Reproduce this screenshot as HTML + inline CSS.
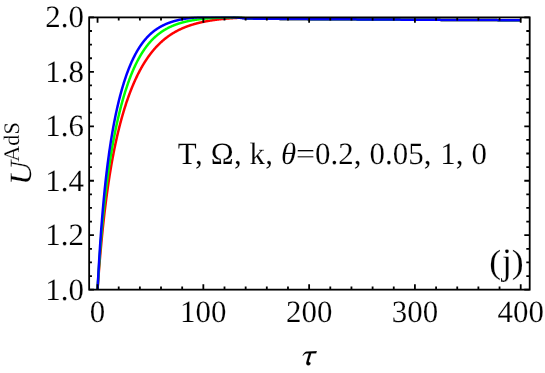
<!DOCTYPE html>
<html><head><meta charset="utf-8"><title>plot</title>
<style>html,body{margin:0;padding:0;background:#fff;}body{width:545px;height:373px;overflow:hidden;font-family:"Liberation Serif",serif;} .t,.t text,.t tspan{font-family:"Liberation Serif",serif;text-rendering:geometricPrecision;}</style></head>
<body>
<svg width="545" height="373" viewBox="0 0 545 373" style="display:block;will-change:transform">
<rect width="545" height="373" fill="#fff"/>
<clipPath id="c"><rect x="89.15" y="16.4" width="440.55000000000007" height="273.25"/></clipPath>
<g clip-path="url(#c)" fill="none" stroke-width="2.5" stroke-linejoin="round">
<path d="M97.55,289.65 L97.80,286.11 L98.05,282.65 L98.30,279.25 L98.55,275.93 L98.80,272.67 L99.05,269.48 L99.30,266.35 L99.55,263.28 L99.80,260.27 L100.05,257.32 L100.30,254.43 L100.55,251.59 L100.80,248.80 L101.05,246.06 L101.30,243.38 L101.55,240.74 L101.80,238.15 L102.05,235.61 L102.30,233.11 L102.55,230.66 L102.80,228.24 L103.05,225.87 L103.30,223.54 L103.55,221.25 L103.80,219.00 L104.05,216.79 L104.30,214.61 L104.55,212.47 L104.80,210.36 L105.05,208.28 L105.30,206.24 L105.55,204.23 L105.80,202.25 L106.05,200.30 L106.30,198.39 L106.55,196.50 L106.80,194.64 L107.05,192.80 L107.30,191.00 L107.55,189.22 L107.80,187.47 L108.05,185.74 L108.30,184.03 L108.55,182.35 L108.80,180.70 L109.05,179.07 L109.30,177.46 L109.55,175.87 L109.80,174.30 L110.05,172.76 L110.30,171.23 L110.55,169.73 L110.80,168.24 L111.05,166.78 L111.30,165.33 L111.55,163.90 L111.80,162.49 L112.05,161.10 L112.30,159.73 L112.55,158.37 L112.80,157.03 L113.05,155.71 L113.30,154.40 L113.55,153.11 L113.80,151.83 L114.05,150.57 L114.30,149.33 L114.55,148.10 L114.80,146.88 L115.05,145.68 L115.30,144.49 L115.55,143.31 L115.80,142.15 L116.05,141.00 L116.30,139.87 L116.55,138.74 L116.80,137.63 L117.05,136.54 L117.30,135.45 L117.55,134.37 L117.80,133.31 L118.05,132.26 L118.30,131.22 L118.55,130.19 L118.80,129.17 L119.05,128.17 L119.30,127.17 L119.55,126.18 L119.80,125.21 L120.05,124.24 L120.30,123.29 L120.55,122.34 L120.80,121.40 L121.05,120.48 L121.30,119.56 L121.55,118.65 L121.80,117.75 L122.05,116.86 L122.30,115.98 L122.55,115.10 L122.80,114.24 L123.05,113.38 L123.30,112.53 L123.55,111.69 L123.80,110.86 L124.05,110.04 L124.30,109.22 L124.55,108.42 L124.80,107.61 L125.05,106.82 L125.30,106.04 L125.55,105.26 L125.80,104.49 L126.05,103.72 L126.30,102.97 L126.55,102.22 L126.80,101.47 L127.05,100.74 L127.30,100.01 L127.55,99.29 L127.80,98.57 L128.05,97.86 L128.30,97.16 L128.55,96.46 L128.80,95.77 L129.05,95.09 L129.30,94.41 L129.55,93.74 L129.80,93.07 L130.05,92.41 L130.30,91.76 L130.55,91.11 L130.80,90.46 L131.05,89.83 L131.30,89.20 L131.55,88.57 L131.80,87.95 L132.05,87.33 L132.30,86.72 L132.55,86.12 L132.80,85.52 L133.05,84.93 L133.30,84.34 L133.55,83.75 L133.80,83.17 L134.05,82.60 L134.30,82.03 L134.55,81.47 L134.80,80.91 L135.05,80.35 L135.30,79.80 L135.55,79.26 L135.80,78.72 L136.05,78.18 L136.30,77.65 L136.55,77.13 L136.80,76.60 L137.05,76.09 L137.30,75.57 L137.55,75.06 L137.80,74.56 L138.05,74.06 L138.30,73.56 L138.55,73.07 L138.80,72.58 L139.05,72.10 L139.30,71.62 L139.55,71.15 L139.80,70.67 L140.05,70.21 L140.30,69.74 L140.55,69.28 L140.80,68.83 L141.05,68.37 L141.30,67.93 L141.55,67.48 L141.80,67.04 L142.05,66.60 L142.30,66.17 L142.55,65.74 L142.80,65.32 L143.05,64.89 L143.30,64.47 L143.55,64.06 L143.80,63.65 L144.05,63.24 L144.30,62.83 L144.55,62.43 L144.80,62.03 L145.05,61.64 L145.30,61.24 L145.55,60.86 L145.80,60.47 L146.05,60.09 L146.30,59.71 L146.55,59.33 L146.80,58.96 L147.05,58.59 L147.30,58.23 L147.55,57.86 L147.80,57.50 L148.05,57.14 L148.30,56.79 L148.55,56.44 L148.80,56.09 L149.05,55.74 L149.30,55.40 L149.55,55.06 L149.80,54.73 L150.05,54.39 L150.30,54.06 L150.55,53.73 L150.80,53.41 L151.05,53.08 L151.30,52.76 L151.55,52.45 L151.80,52.13 L152.05,51.82 L152.30,51.51 L152.55,51.20 L152.80,50.90 L153.05,50.59 L153.30,50.30 L153.55,50.00 L153.80,49.70 L154.05,49.41 L154.30,49.12 L154.55,48.84 L154.80,48.55 L155.05,48.27 L155.30,47.99 L155.55,47.71 L155.80,47.44 L156.05,47.16 L156.30,46.89 L156.55,46.62 L156.80,46.36 L157.05,46.09 L157.30,45.83 L157.55,45.57 L157.80,45.32 L158.05,45.06 L158.30,44.81 L158.55,44.56 L158.80,44.31 L159.05,44.06 L159.30,43.82 L159.55,43.58 L159.80,43.34 L160.05,43.10 L160.30,42.86 L160.55,42.63 L160.80,42.40 L161.05,42.16 L161.30,41.94 L161.55,41.71 L161.80,41.49 L162.05,41.26 L162.30,41.04 L162.55,40.82 L162.80,40.61 L163.05,40.39 L163.30,40.18 L163.55,39.97 L163.80,39.76 L164.05,39.55 L164.30,39.34 L164.55,39.14 L164.80,38.94 L165.05,38.74 L165.30,38.54 L165.55,38.34 L165.80,38.15 L166.05,37.95 L166.30,37.76 L166.55,37.57 L166.80,37.38 L167.05,37.19 L167.30,37.01 L167.55,36.82 L167.80,36.64 L168.05,36.46 L168.30,36.28 L168.55,36.10 L168.80,35.92 L169.05,35.75 L169.30,35.58 L169.55,35.40 L169.80,35.23 L170.05,35.07 L170.30,34.90 L170.55,34.73 L170.80,34.57 L171.05,34.40 L171.30,34.24 L171.55,34.08 L171.80,33.92 L172.05,33.77 L172.30,33.61 L172.55,33.45 L172.80,33.30 L173.05,33.15 L173.30,33.00 L173.55,32.85 L173.80,32.70 L174.05,32.55 L174.30,32.41 L174.55,32.26 L174.80,32.12 L175.05,31.98 L175.30,31.84 L175.55,31.70 L175.80,31.56 L176.05,31.42 L176.30,31.29 L176.55,31.15 L176.80,31.02 L177.05,30.89 L177.30,30.75 L177.55,30.62 L177.80,30.50 L178.05,30.37 L178.30,30.24 L178.55,30.11 L178.80,29.99 L179.05,29.87 L179.30,29.74 L179.55,29.62 L179.80,29.50 L180.05,29.38 L180.30,29.27 L180.55,29.15 L180.80,29.03 L181.05,28.92 L181.30,28.80 L181.55,28.69 L181.80,28.58 L182.05,28.47 L182.30,28.36 L182.55,28.25 L182.80,28.14 L183.05,28.03 L183.30,27.93 L183.55,27.82 L183.80,27.72 L184.05,27.61 L184.30,27.51 L184.55,27.41 L184.80,27.31 L185.05,27.21 L185.30,27.11 L185.55,27.01 L185.80,26.92 L186.05,26.82 L186.30,26.72 L186.55,26.63 L186.80,26.53 L187.05,26.44 L187.30,26.35 L187.55,26.26 L187.80,26.17 L188.05,26.08 L188.30,25.99 L188.55,25.90 L188.80,25.81 L189.05,25.73 L189.30,25.64 L189.55,25.56 L189.80,25.47 L190.05,25.39 L190.30,25.30 L190.55,25.22 L190.80,25.14 L191.05,25.06 L191.30,24.98 L191.55,24.90 L191.80,24.82 L192.05,24.74 L192.30,24.67 L192.55,24.59 L192.80,24.52 L193.05,24.44 L193.30,24.37 L193.55,24.29 L193.80,24.22 L194.05,24.15 L194.30,24.07 L194.55,24.00 L194.80,23.93 L195.05,23.86 L195.30,23.79 L195.55,23.72 L195.80,23.66 L196.05,23.59 L196.30,23.52 L196.55,23.46 L196.80,23.39 L197.05,23.32 L197.30,23.26 L197.55,23.20 L197.80,23.13 L198.05,23.07 L198.30,23.01 L198.55,22.95 L198.80,22.88 L199.05,22.82 L199.30,22.76 L199.55,22.70 L199.80,22.65 L200.05,22.59 L200.30,22.53 L200.55,22.47 L200.80,22.41 L201.05,22.36 L201.30,22.30 L201.55,22.25 L201.80,22.19 L202.05,22.14 L202.30,22.08 L202.55,22.03 L202.80,21.98 L203.05,21.92 L203.30,21.87 L203.55,21.82 L203.80,21.77 L204.05,21.72 L204.30,21.67 L204.55,21.62 L204.80,21.57 L205.05,21.52 L205.30,21.47 L205.55,21.42 L205.80,21.38 L206.05,21.33 L206.30,21.28 L206.55,21.24 L206.80,21.19 L207.05,21.15 L207.30,21.10 L207.55,21.06 L207.80,21.01 L208.05,20.97 L208.30,20.92 L208.55,20.88 L208.80,20.84 L209.05,20.80 L209.30,20.75 L209.55,20.71 L209.80,20.67 L210.05,20.63 L210.30,20.59 L210.55,20.55 L210.80,20.51 L211.05,20.47 L211.30,20.43 L211.55,20.39 L211.80,20.36 L212.05,20.32 L212.30,20.28 L212.55,20.24 L212.80,20.21 L213.05,20.17 L213.30,20.13 L213.55,20.10 L213.80,20.06 L214.05,20.03 L214.30,19.99 L214.55,19.96 L214.80,19.92 L215.05,19.89 L215.30,19.85 L215.55,19.82 L215.80,19.79 L216.05,19.75 L216.30,19.72 L216.55,19.69 L216.80,19.66 L217.05,19.63 L217.30,19.60 L217.55,19.56 L217.80,19.53 L218.05,19.50 L218.30,19.47 L218.55,19.44 L218.80,19.41 L219.05,19.38 L219.30,19.35 L219.55,19.33 L219.80,19.30 L220.05,19.27 L220.30,19.24 L220.55,19.21 L220.80,19.18 L221.05,19.16 L221.30,19.13 L221.55,19.10 L221.80,19.08 L222.05,19.05 L222.30,19.02 L222.55,19.00 L222.80,18.97 L223.05,18.95 L223.30,18.92 L223.55,18.90 L223.80,18.87 L224.05,18.85 L224.30,18.83 L224.55,18.80 L224.80,18.78 L225.05,18.75 L225.30,18.73 L225.55,18.71 L225.80,18.69 L226.05,18.66 L226.30,18.64 L226.55,18.62 L226.80,18.60 L227.05,18.57 L227.30,18.55 L227.55,18.53 L227.80,18.51 L228.05,18.49 L228.30,18.47 L228.55,18.45 L228.80,18.43 L229.05,18.41 L229.30,18.39 L229.55,18.37 L229.80,18.35 L230.05,18.33 L230.30,18.31 L230.55,18.30 L230.80,18.28 L231.05,18.26 L231.30,18.24 L231.55,18.22 L231.80,18.21 L232.05,18.19 L232.30,18.17 L232.55,18.15 L232.80,18.14 L233.05,18.12 L233.30,18.10 L233.55,18.09 L233.80,18.07 L234.05,18.06 L234.30,18.04 L234.55,18.03 L234.80,18.01 L235.05,18.00 L235.30,17.98 L235.55,17.97 L235.80,17.95 L236.05,17.94 L236.30,17.92 L236.55,17.91 L236.80,17.89 L237.05,17.88 L237.30,17.86 L237.55,17.85 L237.80,17.83 L238.05,17.82 L238.30,17.81 L238.55,17.80 L238.80,17.79 L239.05,17.78 L239.30,17.77 L239.55,17.77 L239.80,17.76 L240.05,17.76 L240.30,17.76 L240.55,17.77 L240.80,17.77 L241.05,17.78 L241.30,17.79 L241.55,17.81 L241.80,17.83 L242.05,17.85 L242.30,17.87 L242.55,17.89 L242.80,17.92 L243.05,17.94 L243.30,17.97 L243.55,18.00 L243.80,18.04 L244.05,18.07 L244.30,18.10 L244.55,18.13 L244.80,18.17 L245.05,18.20 L245.30,18.23 L245.55,18.26 L245.80,18.29 L246.05,18.31 L246.30,18.34 L246.55,18.36 L246.80,18.39 L247.05,18.41 L247.30,18.43 L247.55,18.45 L247.80,18.47 L248.05,18.49 L248.30,18.51 L248.55,18.52 L248.80,18.54 L249.05,18.55 L249.30,18.56 L249.55,18.57 L249.80,18.58 L250.05,18.58 L250.30,18.59 L250.55,18.59 L250.80,18.59 L251.05,18.60 L251.30,18.60 L251.55,18.61 L251.80,18.61 L252.05,18.61 L252.30,18.62 L252.55,18.62 L252.80,18.62 L253.05,18.63 L253.30,18.63 L253.55,18.63 L253.80,18.63 L254.05,18.64 L254.30,18.64 L254.55,18.64 L254.80,18.64 L255.05,18.65 L255.30,18.65 L255.55,18.65 L255.80,18.65 L256.05,18.66 L256.30,18.66 L256.55,18.66 L256.80,18.66 L257.05,18.67 L257.30,18.67 L257.55,18.67 L257.80,18.67 L258.05,18.67 L258.30,18.68 L258.55,18.68 L258.80,18.68 L259.05,18.68 L259.30,18.68 L259.55,18.69 L259.80,18.69 L260.00,18.69 L261.00,18.70 L262.00,18.71 L263.00,18.71 L264.00,18.72 L265.00,18.73 L266.00,18.74 L267.00,18.75 L268.00,18.76 L269.00,18.77 L270.00,18.78 L271.00,18.79 L272.00,18.80 L273.00,18.81 L274.00,18.82 L275.00,18.83 L276.00,18.84 L277.00,18.85 L278.00,18.86 L279.00,18.87 L280.00,18.88 L281.00,18.89 L282.00,18.90 L283.00,18.90 L284.00,18.91 L285.00,18.92 L286.00,18.93 L287.00,18.94 L288.00,18.95 L289.00,18.96 L290.00,18.97 L291.00,18.98 L292.00,18.99 L293.00,19.00 L294.00,19.01 L295.00,19.02 L296.00,19.02 L297.00,19.03 L298.00,19.04 L299.00,19.05 L300.00,19.06 L301.00,19.07 L302.00,19.08 L303.00,19.09 L304.00,19.10 L305.00,19.11 L306.00,19.11 L307.00,19.12 L308.00,19.13 L309.00,19.14 L310.00,19.14 L311.00,19.15 L312.00,19.16 L313.00,19.16 L314.00,19.17 L315.00,19.18 L316.00,19.18 L317.00,19.19 L318.00,19.19 L319.00,19.20 L320.00,19.20 L321.00,19.21 L322.00,19.22 L323.00,19.22 L324.00,19.23 L325.00,19.23 L326.00,19.24 L327.00,19.24 L328.00,19.25 L329.00,19.25 L330.00,19.26 L331.00,19.26 L332.00,19.27 L333.00,19.27 L334.00,19.27 L335.00,19.28 L336.00,19.28 L337.00,19.29 L338.00,19.29 L339.00,19.30 L340.00,19.30 L341.00,19.31 L342.00,19.31 L343.00,19.31 L344.00,19.32 L345.00,19.32 L346.00,19.33 L347.00,19.33 L348.00,19.34 L349.00,19.34 L350.00,19.35 L351.00,19.35 L352.00,19.35 L353.00,19.36 L354.00,19.36 L355.00,19.37 L356.00,19.37 L357.00,19.38 L358.00,19.38 L359.00,19.39 L360.00,19.39 L361.00,19.39 L362.00,19.40 L363.00,19.40 L364.00,19.41 L365.00,19.41 L366.00,19.42 L367.00,19.42 L368.00,19.43 L369.00,19.43 L370.00,19.44 L371.00,19.44 L372.00,19.45 L373.00,19.46 L374.00,19.46 L375.00,19.47 L376.00,19.47 L377.00,19.48 L378.00,19.48 L379.00,19.49 L380.00,19.50 L381.00,19.50 L382.00,19.51 L383.00,19.51 L384.00,19.52 L385.00,19.53 L386.00,19.53 L387.00,19.54 L388.00,19.55 L389.00,19.55 L390.00,19.56 L391.00,19.56 L392.00,19.57 L393.00,19.58 L394.00,19.58 L395.00,19.59 L396.00,19.60 L397.00,19.60 L398.00,19.61 L399.00,19.62 L400.00,19.62 L401.00,19.63 L402.00,19.64 L403.00,19.64 L404.00,19.65 L405.00,19.66 L406.00,19.66 L407.00,19.67 L408.00,19.68 L409.00,19.68 L410.00,19.69 L411.00,19.70 L412.00,19.70 L413.00,19.71 L414.00,19.72 L415.00,19.72 L416.00,19.73 L417.00,19.74 L418.00,19.74 L419.00,19.75 L420.00,19.76 L421.00,19.76 L422.00,19.77 L423.00,19.78 L424.00,19.78 L425.00,19.79 L426.00,19.79 L427.00,19.80 L428.00,19.81 L429.00,19.81 L430.00,19.82 L431.00,19.82 L432.00,19.83 L433.00,19.84 L434.00,19.84 L435.00,19.85 L436.00,19.85 L437.00,19.86 L438.00,19.86 L439.00,19.87 L440.00,19.87 L441.00,19.88 L442.00,19.89 L443.00,19.89 L444.00,19.90 L445.00,19.90 L446.00,19.90 L447.00,19.91 L448.00,19.91 L449.00,19.92 L450.00,19.92 L451.00,19.93 L452.00,19.93 L453.00,19.94 L454.00,19.94 L455.00,19.95 L456.00,19.95 L457.00,19.96 L458.00,19.96 L459.00,19.97 L460.00,19.97 L461.00,19.97 L462.00,19.98 L463.00,19.98 L464.00,19.99 L465.00,19.99 L466.00,20.00 L467.00,20.00 L468.00,20.01 L469.00,20.01 L470.00,20.01 L471.00,20.02 L472.00,20.02 L473.00,20.03 L474.00,20.03 L475.00,20.04 L476.00,20.04 L477.00,20.04 L478.00,20.05 L479.00,20.05 L480.00,20.06 L481.00,20.06 L482.00,20.07 L483.00,20.07 L484.00,20.07 L485.00,20.08 L486.00,20.08 L487.00,20.09 L488.00,20.09 L489.00,20.09 L490.00,20.10 L491.00,20.10 L492.00,20.10 L493.00,20.11 L494.00,20.11 L495.00,20.12 L496.00,20.12 L497.00,20.12 L498.00,20.13 L499.00,20.13 L500.00,20.13 L501.00,20.14 L502.00,20.14 L503.00,20.14 L504.00,20.15 L505.00,20.15 L506.00,20.15 L507.00,20.16 L508.00,20.16 L509.00,20.16 L510.00,20.17 L511.00,20.17 L512.00,20.17 L513.00,20.18 L514.00,20.18 L515.00,20.18 L516.00,20.19 L517.00,20.19 L518.00,20.19 L519.00,20.19 L520.00,20.20 L520.80,20.20" stroke="#ff0000"/>
<path d="M97.55,289.65 L97.80,285.35 L98.05,281.18 L98.30,277.12 L98.55,273.16 L98.80,269.32 L99.05,265.57 L99.30,261.92 L99.55,258.37 L99.80,254.90 L100.05,251.52 L100.30,248.22 L100.55,244.99 L100.80,241.85 L101.05,238.78 L101.30,235.77 L101.55,232.84 L101.80,229.97 L102.05,227.16 L102.30,224.41 L102.55,221.72 L102.80,219.08 L103.05,216.50 L103.30,213.98 L103.55,211.50 L103.80,209.07 L104.05,206.68 L104.30,204.35 L104.55,202.05 L104.80,199.80 L105.05,197.59 L105.30,195.42 L105.55,193.29 L105.80,191.19 L106.05,189.13 L106.30,187.11 L106.55,185.11 L106.80,183.16 L107.05,181.23 L107.30,179.34 L107.55,177.47 L107.80,175.63 L108.05,173.83 L108.30,172.05 L108.55,170.29 L108.80,168.57 L109.05,166.86 L109.30,165.19 L109.55,163.53 L109.80,161.90 L110.05,160.30 L110.30,158.71 L110.55,157.15 L110.80,155.61 L111.05,154.09 L111.30,152.59 L111.55,151.11 L111.80,149.65 L112.05,148.20 L112.30,146.78 L112.55,145.37 L112.80,143.99 L113.05,142.62 L113.30,141.26 L113.55,139.92 L113.80,138.60 L114.05,137.30 L114.30,136.01 L114.55,134.74 L114.80,133.48 L115.05,132.23 L115.30,131.00 L115.55,129.79 L115.80,128.59 L116.05,127.40 L116.30,126.23 L116.55,125.06 L116.80,123.92 L117.05,122.78 L117.30,121.66 L117.55,120.55 L117.80,119.45 L118.05,118.37 L118.30,117.29 L118.55,116.23 L118.80,115.18 L119.05,114.14 L119.30,113.11 L119.55,112.10 L119.80,111.09 L120.05,110.09 L120.30,109.11 L120.55,108.13 L120.80,107.17 L121.05,106.22 L121.30,105.27 L121.55,104.34 L121.80,103.41 L122.05,102.50 L122.30,101.59 L122.55,100.70 L122.80,99.81 L123.05,98.93 L123.30,98.06 L123.55,97.21 L123.80,96.35 L124.05,95.51 L124.30,94.68 L124.55,93.85 L124.80,93.04 L125.05,92.23 L125.30,91.43 L125.55,90.64 L125.80,89.86 L126.05,89.08 L126.30,88.31 L126.55,87.55 L126.80,86.80 L127.05,86.06 L127.30,85.32 L127.55,84.59 L127.80,83.87 L128.05,83.15 L128.30,82.45 L128.55,81.75 L128.80,81.05 L129.05,80.37 L129.30,79.69 L129.55,79.02 L129.80,78.35 L130.05,77.69 L130.30,77.04 L130.55,76.40 L130.80,75.76 L131.05,75.13 L131.30,74.50 L131.55,73.88 L131.80,73.27 L132.05,72.66 L132.30,72.06 L132.55,71.47 L132.80,70.88 L133.05,70.30 L133.30,69.72 L133.55,69.15 L133.80,68.59 L134.05,68.03 L134.30,67.47 L134.55,66.93 L134.80,66.38 L135.05,65.85 L135.30,65.32 L135.55,64.79 L135.80,64.27 L136.05,63.76 L136.30,63.25 L136.55,62.75 L136.80,62.25 L137.05,61.75 L137.30,61.27 L137.55,60.78 L137.80,60.30 L138.05,59.83 L138.30,59.36 L138.55,58.90 L138.80,58.44 L139.05,57.99 L139.30,57.54 L139.55,57.09 L139.80,56.65 L140.05,56.22 L140.30,55.78 L140.55,55.36 L140.80,54.94 L141.05,54.52 L141.30,54.11 L141.55,53.70 L141.80,53.29 L142.05,52.89 L142.30,52.50 L142.55,52.10 L142.80,51.72 L143.05,51.33 L143.30,50.95 L143.55,50.58 L143.80,50.21 L144.05,49.84 L144.30,49.47 L144.55,49.11 L144.80,48.76 L145.05,48.40 L145.30,48.06 L145.55,47.71 L145.80,47.37 L146.05,47.03 L146.30,46.70 L146.55,46.37 L146.80,46.04 L147.05,45.72 L147.30,45.40 L147.55,45.08 L147.80,44.76 L148.05,44.45 L148.30,44.15 L148.55,43.84 L148.80,43.54 L149.05,43.25 L149.30,42.95 L149.55,42.66 L149.80,42.37 L150.05,42.09 L150.30,41.81 L150.55,41.53 L150.80,41.25 L151.05,40.98 L151.30,40.71 L151.55,40.45 L151.80,40.18 L152.05,39.92 L152.30,39.66 L152.55,39.41 L152.80,39.15 L153.05,38.90 L153.30,38.66 L153.55,38.41 L153.80,38.17 L154.05,37.93 L154.30,37.69 L154.55,37.46 L154.80,37.23 L155.05,37.00 L155.30,36.77 L155.55,36.55 L155.80,36.33 L156.05,36.11 L156.30,35.89 L156.55,35.68 L156.80,35.46 L157.05,35.25 L157.30,35.05 L157.55,34.84 L157.80,34.64 L158.05,34.44 L158.30,34.24 L158.55,34.04 L158.80,33.85 L159.05,33.65 L159.30,33.46 L159.55,33.27 L159.80,33.09 L160.05,32.90 L160.30,32.72 L160.55,32.54 L160.80,32.36 L161.05,32.19 L161.30,32.01 L161.55,31.84 L161.80,31.67 L162.05,31.50 L162.30,31.33 L162.55,31.17 L162.80,31.01 L163.05,30.84 L163.30,30.68 L163.55,30.53 L163.80,30.37 L164.05,30.22 L164.30,30.06 L164.55,29.91 L164.80,29.76 L165.05,29.62 L165.30,29.47 L165.55,29.32 L165.80,29.18 L166.05,29.04 L166.30,28.90 L166.55,28.76 L166.80,28.63 L167.05,28.49 L167.30,28.36 L167.55,28.22 L167.80,28.09 L168.05,27.96 L168.30,27.84 L168.55,27.71 L168.80,27.58 L169.05,27.46 L169.30,27.34 L169.55,27.22 L169.80,27.10 L170.05,26.98 L170.30,26.86 L170.55,26.75 L170.80,26.63 L171.05,26.52 L171.30,26.41 L171.55,26.29 L171.80,26.18 L172.05,26.08 L172.30,25.97 L172.55,25.86 L172.80,25.76 L173.05,25.65 L173.30,25.55 L173.55,25.45 L173.80,25.35 L174.05,25.25 L174.30,25.15 L174.55,25.06 L174.80,24.96 L175.05,24.87 L175.30,24.77 L175.55,24.68 L175.80,24.59 L176.05,24.50 L176.30,24.41 L176.55,24.32 L176.80,24.23 L177.05,24.14 L177.30,24.06 L177.55,23.97 L177.80,23.89 L178.05,23.81 L178.30,23.72 L178.55,23.64 L178.80,23.56 L179.05,23.48 L179.30,23.40 L179.55,23.33 L179.80,23.25 L180.05,23.17 L180.30,23.10 L180.55,23.02 L180.80,22.95 L181.05,22.88 L181.30,22.81 L181.55,22.74 L181.80,22.67 L182.05,22.60 L182.30,22.53 L182.55,22.46 L182.80,22.39 L183.05,22.33 L183.30,22.26 L183.55,22.20 L183.80,22.13 L184.05,22.07 L184.30,22.00 L184.55,21.94 L184.80,21.88 L185.05,21.82 L185.30,21.76 L185.55,21.70 L185.80,21.64 L186.05,21.58 L186.30,21.53 L186.55,21.47 L186.80,21.41 L187.05,21.36 L187.30,21.30 L187.55,21.25 L187.80,21.20 L188.05,21.14 L188.30,21.09 L188.55,21.04 L188.80,20.99 L189.05,20.94 L189.30,20.89 L189.55,20.84 L189.80,20.79 L190.05,20.74 L190.30,20.69 L190.55,20.64 L190.80,20.60 L191.05,20.55 L191.30,20.50 L191.55,20.46 L191.80,20.41 L192.05,20.37 L192.30,20.32 L192.55,20.28 L192.80,20.24 L193.05,20.20 L193.30,20.15 L193.55,20.11 L193.80,20.07 L194.05,20.03 L194.30,19.99 L194.55,19.95 L194.80,19.91 L195.05,19.87 L195.30,19.83 L195.55,19.80 L195.80,19.76 L196.05,19.72 L196.30,19.68 L196.55,19.65 L196.80,19.61 L197.05,19.58 L197.30,19.54 L197.55,19.51 L197.80,19.47 L198.05,19.44 L198.30,19.41 L198.55,19.37 L198.80,19.34 L199.05,19.31 L199.30,19.28 L199.55,19.24 L199.80,19.21 L200.05,19.18 L200.30,19.15 L200.55,19.12 L200.80,19.09 L201.05,19.06 L201.30,19.03 L201.55,19.00 L201.80,18.97 L202.05,18.95 L202.30,18.92 L202.55,18.89 L202.80,18.86 L203.05,18.84 L203.30,18.81 L203.55,18.78 L203.80,18.76 L204.05,18.73 L204.30,18.71 L204.55,18.68 L204.80,18.66 L205.05,18.63 L205.30,18.61 L205.55,18.58 L205.80,18.56 L206.05,18.54 L206.30,18.52 L206.55,18.49 L206.80,18.47 L207.05,18.45 L207.30,18.43 L207.55,18.40 L207.80,18.38 L208.05,18.36 L208.30,18.34 L208.55,18.32 L208.80,18.30 L209.05,18.28 L209.30,18.26 L209.55,18.24 L209.80,18.22 L210.05,18.20 L210.30,18.19 L210.55,18.17 L210.80,18.15 L211.05,18.13 L211.30,18.12 L211.55,18.10 L211.80,18.08 L212.05,18.06 L212.30,18.05 L212.55,18.03 L212.80,18.02 L213.05,18.00 L213.30,17.99 L213.55,17.97 L213.80,17.96 L214.05,17.94 L214.30,17.93 L214.55,17.91 L214.80,17.90 L215.05,17.88 L215.30,17.87 L215.55,17.86 L215.80,17.84 L216.05,17.83 L216.30,17.82 L216.55,17.81 L216.80,17.80 L217.05,17.78 L217.30,17.77 L217.55,17.76 L217.80,17.75 L218.05,17.74 L218.30,17.73 L218.55,17.72 L218.80,17.71 L219.05,17.70 L219.30,17.69 L219.55,17.68 L219.80,17.67 L220.05,17.66 L220.30,17.65 L220.55,17.64 L220.80,17.63 L221.05,17.62 L221.30,17.62 L221.55,17.61 L221.80,17.60 L222.05,17.59 L222.30,17.58 L222.55,17.58 L222.80,17.57 L223.05,17.56 L223.30,17.55 L223.55,17.55 L223.80,17.54 L224.05,17.53 L224.30,17.53 L224.55,17.52 L224.80,17.52 L225.05,17.51 L225.30,17.50 L225.55,17.50 L225.80,17.49 L226.05,17.49 L226.30,17.48 L226.55,17.48 L226.80,17.47 L227.05,17.47 L227.30,17.46 L227.55,17.46 L227.80,17.45 L228.05,17.45 L228.30,17.44 L228.55,17.44 L228.80,17.43 L229.05,17.43 L229.30,17.43 L229.55,17.42 L229.80,17.42 L230.05,17.42 L230.30,17.41 L230.55,17.41 L230.80,17.40 L231.05,17.40 L231.30,17.40 L231.55,17.39 L231.80,17.39 L232.05,17.39 L232.30,17.39 L232.55,17.38 L232.80,17.38 L233.05,17.38 L233.30,17.37 L233.55,17.37 L233.80,17.37 L234.05,17.37 L234.30,17.36 L234.55,17.36 L234.80,17.36 L235.05,17.36 L235.30,17.35 L235.55,17.35 L235.80,17.35 L236.05,17.35 L236.30,17.35 L236.55,17.34 L236.80,17.34 L237.05,17.34 L237.30,17.34 L237.55,17.34 L237.80,17.34 L238.05,17.35 L238.30,17.35 L238.55,17.36 L238.80,17.36 L239.05,17.37 L239.30,17.38 L239.55,17.39 L239.80,17.41 L240.05,17.42 L240.30,17.44 L240.55,17.46 L240.80,17.49 L241.05,17.51 L241.30,17.54 L241.55,17.57 L241.80,17.60 L242.05,17.63 L242.30,17.67 L242.55,17.71 L242.80,17.74 L243.05,17.78 L243.30,17.83 L243.55,17.87 L243.80,17.91 L244.05,17.95 L244.30,18.00 L244.55,18.04 L244.80,18.08 L245.05,18.12 L245.30,18.16 L245.55,18.20 L245.80,18.23 L246.05,18.27 L246.30,18.30 L246.55,18.33 L246.80,18.36 L247.05,18.38 L247.30,18.41 L247.55,18.43 L247.80,18.46 L248.05,18.48 L248.30,18.50 L248.55,18.52 L248.80,18.53 L249.05,18.55 L249.30,18.56 L249.55,18.57 L249.80,18.58 L250.05,18.58 L250.30,18.59 L250.55,18.59 L250.80,18.59 L251.05,18.60 L251.30,18.60 L251.55,18.61 L251.80,18.61 L252.05,18.61 L252.30,18.62 L252.55,18.62 L252.80,18.62 L253.05,18.63 L253.30,18.63 L253.55,18.63 L253.80,18.63 L254.05,18.64 L254.30,18.64 L254.55,18.64 L254.80,18.64 L255.05,18.65 L255.30,18.65 L255.55,18.65 L255.80,18.65 L256.05,18.66 L256.30,18.66 L256.55,18.66 L256.80,18.66 L257.05,18.67 L257.30,18.67 L257.55,18.67 L257.80,18.67 L258.05,18.67 L258.30,18.68 L258.55,18.68 L258.80,18.68 L259.05,18.68 L259.30,18.68 L259.55,18.69 L259.80,18.69 L260.00,18.69 L261.00,18.70 L262.00,18.71 L263.00,18.71 L264.00,18.72 L265.00,18.73 L266.00,18.74 L267.00,18.75 L268.00,18.76 L269.00,18.77 L270.00,18.78 L271.00,18.79 L272.00,18.80 L273.00,18.81 L274.00,18.82 L275.00,18.83 L276.00,18.84 L277.00,18.85 L278.00,18.86 L279.00,18.87 L280.00,18.88 L281.00,18.89 L282.00,18.90 L283.00,18.90 L284.00,18.91 L285.00,18.92 L286.00,18.93 L287.00,18.94 L288.00,18.95 L289.00,18.96 L290.00,18.97 L291.00,18.98 L292.00,18.99 L293.00,19.00 L294.00,19.01 L295.00,19.02 L296.00,19.02 L297.00,19.03 L298.00,19.04 L299.00,19.05 L300.00,19.06 L301.00,19.07 L302.00,19.08 L303.00,19.09 L304.00,19.10 L305.00,19.11 L306.00,19.11 L307.00,19.12 L308.00,19.13 L309.00,19.14 L310.00,19.14 L311.00,19.15 L312.00,19.16 L313.00,19.16 L314.00,19.17 L315.00,19.18 L316.00,19.18 L317.00,19.19 L318.00,19.19 L319.00,19.20 L320.00,19.20 L321.00,19.21 L322.00,19.22 L323.00,19.22 L324.00,19.23 L325.00,19.23 L326.00,19.24 L327.00,19.24 L328.00,19.25 L329.00,19.25 L330.00,19.26 L331.00,19.26 L332.00,19.27 L333.00,19.27 L334.00,19.27 L335.00,19.28 L336.00,19.28 L337.00,19.29 L338.00,19.29 L339.00,19.30 L340.00,19.30 L341.00,19.31 L342.00,19.31 L343.00,19.31 L344.00,19.32 L345.00,19.32 L346.00,19.33 L347.00,19.33 L348.00,19.34 L349.00,19.34 L350.00,19.35 L351.00,19.35 L352.00,19.35 L353.00,19.36 L354.00,19.36 L355.00,19.37 L356.00,19.37 L357.00,19.38 L358.00,19.38 L359.00,19.39 L360.00,19.39 L361.00,19.39 L362.00,19.40 L363.00,19.40 L364.00,19.41 L365.00,19.41 L366.00,19.42 L367.00,19.42 L368.00,19.43 L369.00,19.43 L370.00,19.44 L371.00,19.44 L372.00,19.45 L373.00,19.46 L374.00,19.46 L375.00,19.47 L376.00,19.47 L377.00,19.48 L378.00,19.48 L379.00,19.49 L380.00,19.50 L381.00,19.50 L382.00,19.51 L383.00,19.51 L384.00,19.52 L385.00,19.53 L386.00,19.53 L387.00,19.54 L388.00,19.55 L389.00,19.55 L390.00,19.56 L391.00,19.56 L392.00,19.57 L393.00,19.58 L394.00,19.58 L395.00,19.59 L396.00,19.60 L397.00,19.60 L398.00,19.61 L399.00,19.62 L400.00,19.62 L401.00,19.63 L402.00,19.64 L403.00,19.64 L404.00,19.65 L405.00,19.66 L406.00,19.66 L407.00,19.67 L408.00,19.68 L409.00,19.68 L410.00,19.69 L411.00,19.70 L412.00,19.70 L413.00,19.71 L414.00,19.72 L415.00,19.72 L416.00,19.73 L417.00,19.74 L418.00,19.74 L419.00,19.75 L420.00,19.76 L421.00,19.76 L422.00,19.77 L423.00,19.78 L424.00,19.78 L425.00,19.79 L426.00,19.79 L427.00,19.80 L428.00,19.81 L429.00,19.81 L430.00,19.82 L431.00,19.82 L432.00,19.83 L433.00,19.84 L434.00,19.84 L435.00,19.85 L436.00,19.85 L437.00,19.86 L438.00,19.86 L439.00,19.87 L440.00,19.87 L441.00,19.88 L442.00,19.89 L443.00,19.89 L444.00,19.90 L445.00,19.90 L446.00,19.90 L447.00,19.91 L448.00,19.91 L449.00,19.92 L450.00,19.92 L451.00,19.93 L452.00,19.93 L453.00,19.94 L454.00,19.94 L455.00,19.95 L456.00,19.95 L457.00,19.96 L458.00,19.96 L459.00,19.97 L460.00,19.97 L461.00,19.97 L462.00,19.98 L463.00,19.98 L464.00,19.99 L465.00,19.99 L466.00,20.00 L467.00,20.00 L468.00,20.01 L469.00,20.01 L470.00,20.01 L471.00,20.02 L472.00,20.02 L473.00,20.03 L474.00,20.03 L475.00,20.04 L476.00,20.04 L477.00,20.04 L478.00,20.05 L479.00,20.05 L480.00,20.06 L481.00,20.06 L482.00,20.07 L483.00,20.07 L484.00,20.07 L485.00,20.08 L486.00,20.08 L487.00,20.09 L488.00,20.09 L489.00,20.09 L490.00,20.10 L491.00,20.10 L492.00,20.10 L493.00,20.11 L494.00,20.11 L495.00,20.12 L496.00,20.12 L497.00,20.12 L498.00,20.13 L499.00,20.13 L500.00,20.13 L501.00,20.14 L502.00,20.14 L503.00,20.14 L504.00,20.15 L505.00,20.15 L506.00,20.15 L507.00,20.16 L508.00,20.16 L509.00,20.16 L510.00,20.17 L511.00,20.17 L512.00,20.17 L513.00,20.18 L514.00,20.18 L515.00,20.18 L516.00,20.19 L517.00,20.19 L518.00,20.19 L519.00,20.19 L520.00,20.20 L520.80,20.20" stroke="#00ff00"/>
<path d="M97.55,289.65 L97.80,284.71 L98.05,279.92 L98.30,275.27 L98.55,270.75 L98.80,266.36 L99.05,262.10 L99.30,257.95 L99.55,253.91 L99.80,249.98 L100.05,246.16 L100.30,242.43 L100.55,238.81 L100.80,235.27 L101.05,231.82 L101.30,228.46 L101.55,225.18 L101.80,221.98 L102.05,218.85 L102.30,215.80 L102.55,212.81 L102.80,209.90 L103.05,207.05 L103.30,204.26 L103.55,201.54 L103.80,198.87 L104.05,196.26 L104.30,193.70 L104.55,191.20 L104.80,188.75 L105.05,186.35 L105.30,184.00 L105.55,181.69 L105.80,179.43 L106.05,177.21 L106.30,175.03 L106.55,172.89 L106.80,170.80 L107.05,168.74 L107.30,166.72 L107.55,164.73 L107.80,162.78 L108.05,160.87 L108.30,158.99 L108.55,157.13 L108.80,155.32 L109.05,153.53 L109.30,151.77 L109.55,150.04 L109.80,148.33 L110.05,146.66 L110.30,145.01 L110.55,143.39 L110.80,141.79 L111.05,140.22 L111.30,138.67 L111.55,137.14 L111.80,135.64 L112.05,134.16 L112.30,132.70 L112.55,131.26 L112.80,129.85 L113.05,128.45 L113.30,127.08 L113.55,125.72 L113.80,124.38 L114.05,123.06 L114.30,121.76 L114.55,120.48 L114.80,119.21 L115.05,117.96 L115.30,116.73 L115.55,115.52 L115.80,114.32 L116.05,113.13 L116.30,111.97 L116.55,110.81 L116.80,109.68 L117.05,108.55 L117.30,107.44 L117.55,106.35 L117.80,105.27 L118.05,104.20 L118.30,103.15 L118.55,102.11 L118.80,101.08 L119.05,100.07 L119.30,99.06 L119.55,98.08 L119.80,97.10 L120.05,96.13 L120.30,95.18 L120.55,94.24 L120.80,93.30 L121.05,92.38 L121.30,91.48 L121.55,90.58 L121.80,89.69 L122.05,88.82 L122.30,87.95 L122.55,87.09 L122.80,86.25 L123.05,85.41 L123.30,84.59 L123.55,83.77 L123.80,82.96 L124.05,82.17 L124.30,81.38 L124.55,80.60 L124.80,79.83 L125.05,79.07 L125.30,78.32 L125.55,77.58 L125.80,76.84 L126.05,76.12 L126.30,75.40 L126.55,74.69 L126.80,73.99 L127.05,73.30 L127.30,72.61 L127.55,71.94 L127.80,71.27 L128.05,70.60 L128.30,69.95 L128.55,69.31 L128.80,68.67 L129.05,68.03 L129.30,67.41 L129.55,66.79 L129.80,66.18 L130.05,65.58 L130.30,64.99 L130.55,64.40 L130.80,63.81 L131.05,63.24 L131.30,62.67 L131.55,62.11 L131.80,61.55 L132.05,61.00 L132.30,60.46 L132.55,59.92 L132.80,59.39 L133.05,58.86 L133.30,58.35 L133.55,57.83 L133.80,57.33 L134.05,56.83 L134.30,56.33 L134.55,55.84 L134.80,55.36 L135.05,54.88 L135.30,54.41 L135.55,53.94 L135.80,53.48 L136.05,53.02 L136.30,52.57 L136.55,52.12 L136.80,51.68 L137.05,51.24 L137.30,50.81 L137.55,50.39 L137.80,49.97 L138.05,49.55 L138.30,49.14 L138.55,48.73 L138.80,48.33 L139.05,47.93 L139.30,47.54 L139.55,47.15 L139.80,46.77 L140.05,46.39 L140.30,46.02 L140.55,45.65 L140.80,45.28 L141.05,44.92 L141.30,44.56 L141.55,44.21 L141.80,43.86 L142.05,43.52 L142.30,43.18 L142.55,42.84 L142.80,42.51 L143.05,42.18 L143.30,41.85 L143.55,41.53 L143.80,41.21 L144.05,40.90 L144.30,40.59 L144.55,40.29 L144.80,39.98 L145.05,39.68 L145.30,39.39 L145.55,39.10 L145.80,38.81 L146.05,38.52 L146.30,38.24 L146.55,37.96 L146.80,37.69 L147.05,37.41 L147.30,37.15 L147.55,36.88 L147.80,36.62 L148.05,36.36 L148.30,36.10 L148.55,35.85 L148.80,35.60 L149.05,35.35 L149.30,35.11 L149.55,34.87 L149.80,34.63 L150.05,34.39 L150.30,34.16 L150.55,33.93 L150.80,33.71 L151.05,33.48 L151.30,33.26 L151.55,33.04 L151.80,32.82 L152.05,32.61 L152.30,32.40 L152.55,32.19 L152.80,31.98 L153.05,31.78 L153.30,31.58 L153.55,31.38 L153.80,31.18 L154.05,30.99 L154.30,30.80 L154.55,30.61 L154.80,30.42 L155.05,30.24 L155.30,30.06 L155.55,29.88 L155.80,29.70 L156.05,29.52 L156.30,29.35 L156.55,29.18 L156.80,29.01 L157.05,28.84 L157.30,28.67 L157.55,28.51 L157.80,28.35 L158.05,28.19 L158.30,28.03 L158.55,27.88 L158.80,27.72 L159.05,27.57 L159.30,27.42 L159.55,27.27 L159.80,27.12 L160.05,26.98 L160.30,26.84 L160.55,26.70 L160.80,26.56 L161.05,26.42 L161.30,26.28 L161.55,26.15 L161.80,26.02 L162.05,25.88 L162.30,25.76 L162.55,25.63 L162.80,25.50 L163.05,25.38 L163.30,25.25 L163.55,25.13 L163.80,25.01 L164.05,24.89 L164.30,24.78 L164.55,24.66 L164.80,24.54 L165.05,24.43 L165.30,24.32 L165.55,24.21 L165.80,24.10 L166.05,23.99 L166.30,23.89 L166.55,23.78 L166.80,23.68 L167.05,23.58 L167.30,23.48 L167.55,23.38 L167.80,23.28 L168.05,23.18 L168.30,23.08 L168.55,22.99 L168.80,22.89 L169.05,22.80 L169.30,22.71 L169.55,22.62 L169.80,22.53 L170.05,22.44 L170.30,22.36 L170.55,22.27 L170.80,22.18 L171.05,22.10 L171.30,22.02 L171.55,21.94 L171.80,21.85 L172.05,21.77 L172.30,21.70 L172.55,21.62 L172.80,21.54 L173.05,21.47 L173.30,21.39 L173.55,21.32 L173.80,21.24 L174.05,21.17 L174.30,21.10 L174.55,21.03 L174.80,20.96 L175.05,20.89 L175.30,20.82 L175.55,20.76 L175.80,20.69 L176.05,20.62 L176.30,20.56 L176.55,20.50 L176.80,20.43 L177.05,20.37 L177.30,20.31 L177.55,20.25 L177.80,20.19 L178.05,20.13 L178.30,20.07 L178.55,20.01 L178.80,19.96 L179.05,19.90 L179.30,19.84 L179.55,19.79 L179.80,19.74 L180.05,19.68 L180.30,19.63 L180.55,19.58 L180.80,19.53 L181.05,19.48 L181.30,19.42 L181.55,19.38 L181.80,19.33 L182.05,19.28 L182.30,19.23 L182.55,19.18 L182.80,19.14 L183.05,19.09 L183.30,19.05 L183.55,19.00 L183.80,18.96 L184.05,18.91 L184.30,18.87 L184.55,18.83 L184.80,18.79 L185.05,18.74 L185.30,18.70 L185.55,18.66 L185.80,18.62 L186.05,18.58 L186.30,18.55 L186.55,18.51 L186.80,18.47 L187.05,18.43 L187.30,18.40 L187.55,18.36 L187.80,18.32 L188.05,18.29 L188.30,18.25 L188.55,18.22 L188.80,18.19 L189.05,18.15 L189.30,18.12 L189.55,18.09 L189.80,18.06 L190.05,18.03 L190.30,18.00 L190.55,17.97 L190.80,17.94 L191.05,17.91 L191.30,17.88 L191.55,17.85 L191.80,17.82 L192.05,17.80 L192.30,17.77 L192.55,17.75 L192.80,17.72 L193.05,17.70 L193.30,17.67 L193.55,17.65 L193.80,17.63 L194.05,17.60 L194.30,17.58 L194.55,17.56 L194.80,17.54 L195.05,17.52 L195.30,17.50 L195.55,17.48 L195.80,17.46 L196.05,17.44 L196.30,17.42 L196.55,17.41 L196.80,17.39 L197.05,17.37 L197.30,17.36 L197.55,17.34 L197.80,17.33 L198.05,17.31 L198.30,17.30 L198.55,17.29 L198.80,17.28 L199.05,17.26 L199.30,17.25 L199.55,17.24 L199.80,17.23 L200.05,17.22 L200.30,17.21 L200.55,17.20 L200.80,17.19 L201.05,17.18 L201.30,17.17 L201.55,17.16 L201.80,17.15 L202.05,17.15 L202.30,17.14 L202.55,17.13 L202.80,17.13 L203.05,17.12 L203.30,17.11 L203.55,17.11 L203.80,17.10 L204.05,17.10 L204.30,17.09 L204.55,17.09 L204.80,17.08 L205.05,17.08 L205.30,17.07 L205.55,17.07 L205.80,17.06 L206.05,17.06 L206.30,17.06 L206.55,17.05 L206.80,17.05 L207.05,17.04 L207.30,17.04 L207.55,17.04 L207.80,17.04 L208.05,17.03 L208.30,17.03 L208.55,17.03 L208.80,17.03 L209.05,17.02 L209.30,17.02 L209.55,17.02 L209.80,17.02 L210.05,17.01 L210.30,17.01 L210.55,17.01 L210.80,17.01 L211.05,17.01 L211.30,17.01 L211.55,17.00 L211.80,17.00 L212.05,17.00 L212.30,17.00 L212.55,17.00 L212.80,17.00 L213.05,17.00 L213.30,16.99 L213.55,16.99 L213.80,16.99 L214.05,16.99 L214.30,16.99 L214.55,16.99 L214.80,16.99 L215.05,16.99 L215.30,16.99 L215.55,16.99 L215.80,16.99 L216.05,16.99 L216.30,16.99 L216.55,16.99 L216.80,16.99 L217.05,16.99 L217.30,16.99 L217.55,16.99 L217.80,16.99 L218.05,16.99 L218.30,16.99 L218.55,16.99 L218.80,16.99 L219.05,16.99 L219.30,16.99 L219.55,16.99 L219.80,16.99 L220.05,16.99 L220.30,17.00 L220.55,17.00 L220.80,17.00 L221.05,17.00 L221.30,17.00 L221.55,17.00 L221.80,17.00 L222.05,17.00 L222.30,17.00 L222.55,17.00 L222.80,17.00 L223.05,17.00 L223.30,17.00 L223.55,17.00 L223.80,17.00 L224.05,17.00 L224.30,17.00 L224.55,17.00 L224.80,17.00 L225.05,17.00 L225.30,17.01 L225.55,17.01 L225.80,17.01 L226.05,17.01 L226.30,17.02 L226.55,17.02 L226.80,17.02 L227.05,17.03 L227.30,17.03 L227.55,17.04 L227.80,17.04 L228.05,17.05 L228.30,17.05 L228.55,17.06 L228.80,17.06 L229.05,17.07 L229.30,17.07 L229.55,17.08 L229.80,17.09 L230.05,17.09 L230.30,17.10 L230.55,17.11 L230.80,17.11 L231.05,17.12 L231.30,17.13 L231.55,17.14 L231.80,17.14 L232.05,17.15 L232.30,17.16 L232.55,17.17 L232.80,17.18 L233.05,17.20 L233.30,17.21 L233.55,17.22 L233.80,17.24 L234.05,17.26 L234.30,17.28 L234.55,17.30 L234.80,17.32 L235.05,17.34 L235.30,17.36 L235.55,17.38 L235.80,17.40 L236.05,17.42 L236.30,17.44 L236.55,17.47 L236.80,17.49 L237.05,17.51 L237.30,17.54 L237.55,17.56 L237.80,17.58 L238.05,17.60 L238.30,17.63 L238.55,17.65 L238.80,17.68 L239.05,17.71 L239.30,17.74 L239.55,17.77 L239.80,17.80 L240.05,17.84 L240.30,17.87 L240.55,17.91 L240.80,17.94 L241.05,17.98 L241.30,18.02 L241.55,18.05 L241.80,18.09 L242.05,18.12 L242.30,18.16 L242.55,18.19 L242.80,18.22 L243.05,18.26 L243.30,18.29 L243.55,18.32 L243.80,18.34 L244.05,18.37 L244.30,18.39 L244.55,18.42 L244.80,18.44 L245.05,18.46 L245.30,18.47 L245.55,18.48 L245.80,18.49 L246.05,18.50 L246.30,18.51 L246.55,18.51 L246.80,18.52 L247.05,18.52 L247.30,18.53 L247.55,18.54 L247.80,18.54 L248.05,18.55 L248.30,18.55 L248.55,18.56 L248.80,18.56 L249.05,18.56 L249.30,18.57 L249.55,18.57 L249.80,18.58 L250.05,18.58 L250.30,18.59 L250.55,18.59 L250.80,18.59 L251.05,18.60 L251.30,18.60 L251.55,18.61 L251.80,18.61 L252.05,18.61 L252.30,18.62 L252.55,18.62 L252.80,18.62 L253.05,18.63 L253.30,18.63 L253.55,18.63 L253.80,18.63 L254.05,18.64 L254.30,18.64 L254.55,18.64 L254.80,18.64 L255.05,18.65 L255.30,18.65 L255.55,18.65 L255.80,18.65 L256.05,18.66 L256.30,18.66 L256.55,18.66 L256.80,18.66 L257.05,18.67 L257.30,18.67 L257.55,18.67 L257.80,18.67 L258.05,18.67 L258.30,18.68 L258.55,18.68 L258.80,18.68 L259.05,18.68 L259.30,18.68 L259.55,18.69 L259.80,18.69 L260.00,18.69 L261.00,18.70 L262.00,18.71 L263.00,18.71 L264.00,18.72 L265.00,18.73 L266.00,18.74 L267.00,18.75 L268.00,18.76 L269.00,18.77 L270.00,18.78 L271.00,18.79 L272.00,18.80 L273.00,18.81 L274.00,18.82 L275.00,18.83 L276.00,18.84 L277.00,18.85 L278.00,18.86 L279.00,18.87 L280.00,18.88 L281.00,18.89 L282.00,18.90 L283.00,18.90 L284.00,18.91 L285.00,18.92 L286.00,18.93 L287.00,18.94 L288.00,18.95 L289.00,18.96 L290.00,18.97 L291.00,18.98 L292.00,18.99 L293.00,19.00 L294.00,19.01 L295.00,19.02 L296.00,19.02 L297.00,19.03 L298.00,19.04 L299.00,19.05 L300.00,19.06 L301.00,19.07 L302.00,19.08 L303.00,19.09 L304.00,19.10 L305.00,19.11 L306.00,19.11 L307.00,19.12 L308.00,19.13 L309.00,19.14 L310.00,19.14 L311.00,19.15 L312.00,19.16 L313.00,19.16 L314.00,19.17 L315.00,19.18 L316.00,19.18 L317.00,19.19 L318.00,19.19 L319.00,19.20 L320.00,19.20 L321.00,19.21 L322.00,19.22 L323.00,19.22 L324.00,19.23 L325.00,19.23 L326.00,19.24 L327.00,19.24 L328.00,19.25 L329.00,19.25 L330.00,19.26 L331.00,19.26 L332.00,19.27 L333.00,19.27 L334.00,19.27 L335.00,19.28 L336.00,19.28 L337.00,19.29 L338.00,19.29 L339.00,19.30 L340.00,19.30 L341.00,19.31 L342.00,19.31 L343.00,19.31 L344.00,19.32 L345.00,19.32 L346.00,19.33 L347.00,19.33 L348.00,19.34 L349.00,19.34 L350.00,19.35 L351.00,19.35 L352.00,19.35 L353.00,19.36 L354.00,19.36 L355.00,19.37 L356.00,19.37 L357.00,19.38 L358.00,19.38 L359.00,19.39 L360.00,19.39 L361.00,19.39 L362.00,19.40 L363.00,19.40 L364.00,19.41 L365.00,19.41 L366.00,19.42 L367.00,19.42 L368.00,19.43 L369.00,19.43 L370.00,19.44 L371.00,19.44 L372.00,19.45 L373.00,19.46 L374.00,19.46 L375.00,19.47 L376.00,19.47 L377.00,19.48 L378.00,19.48 L379.00,19.49 L380.00,19.50 L381.00,19.50 L382.00,19.51 L383.00,19.51 L384.00,19.52 L385.00,19.53 L386.00,19.53 L387.00,19.54 L388.00,19.55 L389.00,19.55 L390.00,19.56 L391.00,19.56 L392.00,19.57 L393.00,19.58 L394.00,19.58 L395.00,19.59 L396.00,19.60 L397.00,19.60 L398.00,19.61 L399.00,19.62 L400.00,19.62 L401.00,19.63 L402.00,19.64 L403.00,19.64 L404.00,19.65 L405.00,19.66 L406.00,19.66 L407.00,19.67 L408.00,19.68 L409.00,19.68 L410.00,19.69 L411.00,19.70 L412.00,19.70 L413.00,19.71 L414.00,19.72 L415.00,19.72 L416.00,19.73 L417.00,19.74 L418.00,19.74 L419.00,19.75 L420.00,19.76 L421.00,19.76 L422.00,19.77 L423.00,19.78 L424.00,19.78 L425.00,19.79 L426.00,19.79 L427.00,19.80 L428.00,19.81 L429.00,19.81 L430.00,19.82 L431.00,19.82 L432.00,19.83 L433.00,19.84 L434.00,19.84 L435.00,19.85 L436.00,19.85 L437.00,19.86 L438.00,19.86 L439.00,19.87 L440.00,19.87 L441.00,19.88 L442.00,19.89 L443.00,19.89 L444.00,19.90 L445.00,19.90 L446.00,19.90 L447.00,19.91 L448.00,19.91 L449.00,19.92 L450.00,19.92 L451.00,19.93 L452.00,19.93 L453.00,19.94 L454.00,19.94 L455.00,19.95 L456.00,19.95 L457.00,19.96 L458.00,19.96 L459.00,19.97 L460.00,19.97 L461.00,19.97 L462.00,19.98 L463.00,19.98 L464.00,19.99 L465.00,19.99 L466.00,20.00 L467.00,20.00 L468.00,20.01 L469.00,20.01 L470.00,20.01 L471.00,20.02 L472.00,20.02 L473.00,20.03 L474.00,20.03 L475.00,20.04 L476.00,20.04 L477.00,20.04 L478.00,20.05 L479.00,20.05 L480.00,20.06 L481.00,20.06 L482.00,20.07 L483.00,20.07 L484.00,20.07 L485.00,20.08 L486.00,20.08 L487.00,20.09 L488.00,20.09 L489.00,20.09 L490.00,20.10 L491.00,20.10 L492.00,20.10 L493.00,20.11 L494.00,20.11 L495.00,20.12 L496.00,20.12 L497.00,20.12 L498.00,20.13 L499.00,20.13 L500.00,20.13 L501.00,20.14 L502.00,20.14 L503.00,20.14 L504.00,20.15 L505.00,20.15 L506.00,20.15 L507.00,20.16 L508.00,20.16 L509.00,20.16 L510.00,20.17 L511.00,20.17 L512.00,20.17 L513.00,20.18 L514.00,20.18 L515.00,20.18 L516.00,20.19 L517.00,20.19 L518.00,20.19 L519.00,20.19 L520.00,20.20 L520.80,20.20" stroke="#0000ff"/>
</g>
<g stroke="#000" stroke-width="1.8" fill="none">
<rect x="89.15" y="17.4" width="440.55000000000007" height="272.25"/>
</g>
<path d="M97.55,289.65 v-5.4 M97.55,17.4 v5.4 M118.71,289.65 v-3.2 M118.71,17.4 v3.2 M139.87,289.65 v-3.2 M139.87,17.4 v3.2 M161.02,289.65 v-3.2 M161.02,17.4 v3.2 M182.18,289.65 v-3.2 M182.18,17.4 v3.2 M203.34,289.65 v-5.4 M203.34,17.4 v5.4 M224.50,289.65 v-3.2 M224.50,17.4 v3.2 M245.66,289.65 v-3.2 M245.66,17.4 v3.2 M266.81,289.65 v-3.2 M266.81,17.4 v3.2 M287.97,289.65 v-3.2 M287.97,17.4 v3.2 M309.13,289.65 v-5.4 M309.13,17.4 v5.4 M330.29,289.65 v-3.2 M330.29,17.4 v3.2 M351.45,289.65 v-3.2 M351.45,17.4 v3.2 M372.60,289.65 v-3.2 M372.60,17.4 v3.2 M393.76,289.65 v-3.2 M393.76,17.4 v3.2 M414.92,289.65 v-5.4 M414.92,17.4 v5.4 M436.08,289.65 v-3.2 M436.08,17.4 v3.2 M457.24,289.65 v-3.2 M457.24,17.4 v3.2 M478.39,289.65 v-3.2 M478.39,17.4 v3.2 M499.55,289.65 v-3.2 M499.55,17.4 v3.2 M520.71,289.65 v-5.4 M520.71,17.4 v5.4 M89.15,289.65 h4.8 M529.7,289.65 h-5.3999999999999995 M89.15,276.04 h2.8 M529.7,276.04 h-3.4 M89.15,262.42 h2.8 M529.7,262.42 h-3.4 M89.15,248.81 h2.8 M529.7,248.81 h-3.4 M89.15,235.20 h4.8 M529.7,235.20 h-5.3999999999999995 M89.15,221.59 h2.8 M529.7,221.59 h-3.4 M89.15,207.97 h2.8 M529.7,207.97 h-3.4 M89.15,194.36 h2.8 M529.7,194.36 h-3.4 M89.15,180.75 h4.8 M529.7,180.75 h-5.3999999999999995 M89.15,167.14 h2.8 M529.7,167.14 h-3.4 M89.15,153.52 h2.8 M529.7,153.52 h-3.4 M89.15,139.91 h2.8 M529.7,139.91 h-3.4 M89.15,126.30 h4.8 M529.7,126.30 h-5.3999999999999995 M89.15,112.69 h2.8 M529.7,112.69 h-3.4 M89.15,99.07 h2.8 M529.7,99.07 h-3.4 M89.15,85.46 h2.8 M529.7,85.46 h-3.4 M89.15,71.85 h4.8 M529.7,71.85 h-5.3999999999999995 M89.15,58.24 h2.8 M529.7,58.24 h-3.4 M89.15,44.62 h2.8 M529.7,44.62 h-3.4 M89.15,31.01 h2.8 M529.7,31.01 h-3.4 M89.15,17.40 h4.8 M529.7,17.40 h-5.3999999999999995" stroke="#000" stroke-width="1.8" fill="none"/>
<g class="t" font-size="31" fill="#000" stroke="#fff" stroke-width="0.15">
<text x="45.15 60.65 68.40" y="299.60" font-size="30.9" >1.0</text>
<text x="45.15 60.65 68.40" y="245.15" font-size="30.9" >1.2</text>
<text x="45.15 60.65 68.40" y="190.70" font-size="30.9" >1.4</text>
<text x="45.15 60.65 68.40" y="136.25" font-size="30.9" >1.6</text>
<text x="45.15 60.65 68.40" y="81.80" font-size="30.9" >1.8</text>
<text x="45.15 60.65 68.40" y="27.35" font-size="30.9" >2.0</text>
<text x="89.80" y="322.20" font-size="30.9" >0</text>
<text x="180.09 195.59 211.09" y="322.20" font-size="30.9" >100</text>
<text x="285.88 301.38 316.88" y="322.20" font-size="30.9" >200</text>
<text x="391.67 407.17 422.67" y="322.20" font-size="30.9" >300</text>
<text x="497.46 512.96 528.46" y="322.20" font-size="30.9" >400</text>
<path fill="#000" d="M302.5,355.6 C303.4,353.6 304.6,351.6 306.4,351.4 L317.0,351.0 L316.2,353.5 L311.4,353.5 L309.0,361.0 C308.8,362.2 309.6,362.6 310.6,362.4 C311.0,364.0 310.0,365.4 308.4,365.4 C306.6,365.4 305.8,364.0 306.2,362.2 L308.7,353.5 L306.8,353.5 C305.2,353.6 304.0,354.6 303.0,356.0 Z"/>
<text transform="translate(31,185) rotate(-90) scale(1.075,1)" font-style="italic">U</text>
<text transform="translate(19,161.7) rotate(-90)" font-size="22.2">AdS</text>
<text x="177.70" y="163.80" font-size="30.9" >T</text>
<text x="194.90" y="163.80" font-size="30.9" >,</text>
<text x="210.80 233.91" y="163.80" font-size="30.9" >Ω,</text>
<text x="249.60 265.15" y="163.80" font-size="30.9" >k,</text>
<text x="314.90 330.45 338.22 353.77" y="163.80" font-size="30.9" >0.2,</text>
<text x="369.40 384.95 392.72 408.27 423.82" y="163.80" font-size="30.9" >0.05,</text>
<text x="440.20 455.75" y="163.80" font-size="30.9" >1,</text>
<text x="471.60" y="163.80" font-size="30.9" >0</text>
<text x="281.0" y="163.8" font-size="30.9" font-style="italic">θ</text>
<text x="296.1" y="163.8" font-size="30.9" textLength="19.0" lengthAdjust="spacingAndGlyphs">=</text>
<text transform="translate(489.2,272.8) scale(1.065,1)" font-size="33.5">(</text>
<text transform="translate(502.0,273.5) scale(1.065,1.12)" font-size="33.5">j</text>
<text transform="translate(511.7,272.8) scale(1.065,1)" font-size="33.5">)</text>
</g>
</svg>
</body></html>
